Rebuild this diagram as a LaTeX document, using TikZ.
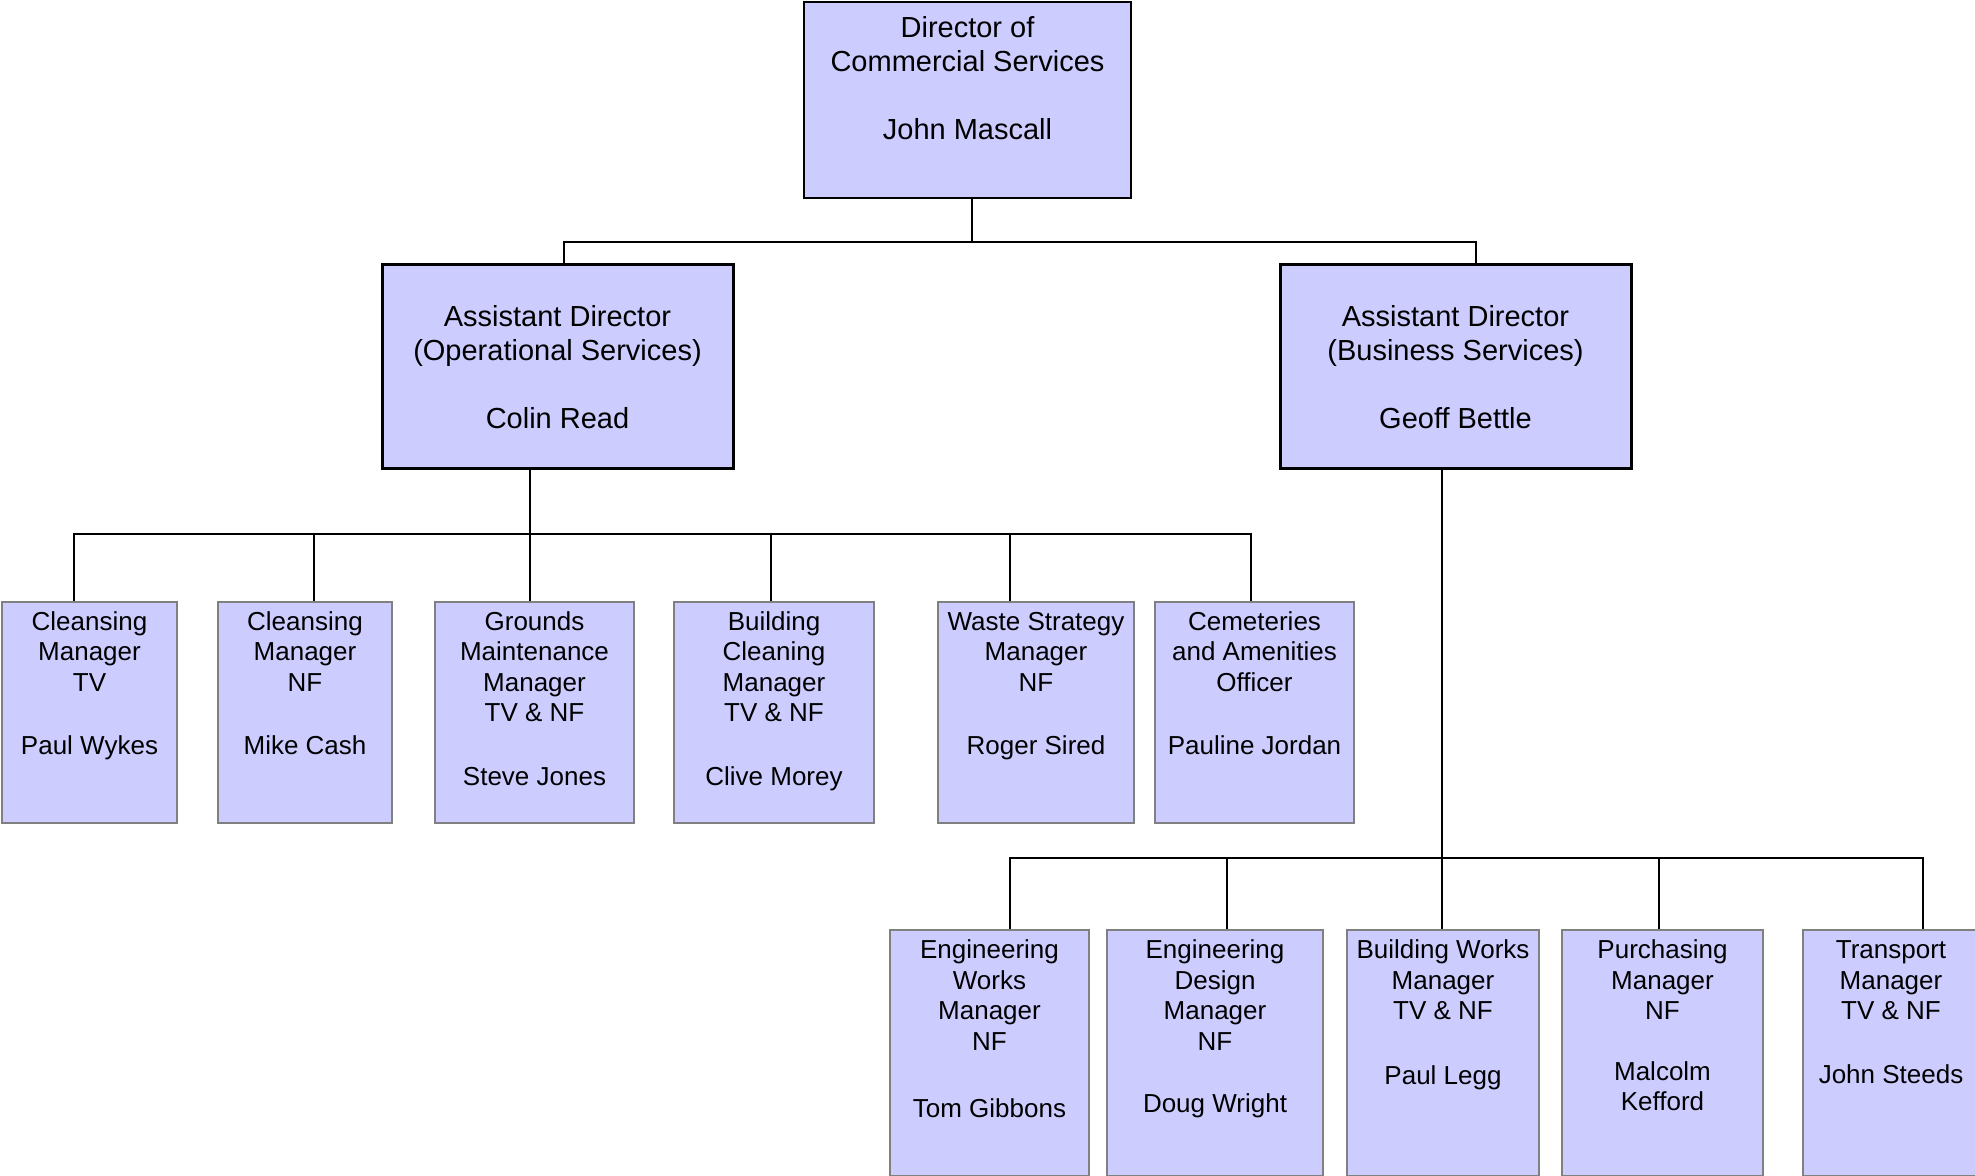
\documentclass[tikz,border=0pt]{standalone}
\usepackage{fontspec}
\setmainfont{Liberation Sans}
\definecolor{boxfill}{RGB}{204,204,255}
\definecolor{boxgray}{RGB}{128,128,128}
\begin{document}
\begin{tikzpicture}[x=1pt,y=-1pt,
  topbox/.style={draw=black, line width=2pt, fill=boxfill, inner sep=0pt},
  adbox/.style={draw=black, line width=3pt, fill=boxfill, inner sep=0pt},
  staffbox/.style={draw=boxgray, line width=1.6pt, fill=boxfill, inner sep=0pt},
  bigtxt/.style={anchor=north, align=center, inner sep=0pt, font=\fontsize{29}{34}\selectfont},
  smalltxt/.style={anchor=north, align=center, inner sep=0pt, font=\fontsize{26}{30.5}\selectfont},
  link/.style={draw=black, line width=1.6pt}
]
\useasboundingbox[fill=white] (0,0) rectangle (1975,1175);

% ---- boxes ----
\node[topbox, minimum width=327pt, minimum height=196pt] (dir) at (967.5,100) {};
\node[adbox, minimum width=351pt, minimum height=204pt] (adL) at (557.5,366) {};
\node[adbox, minimum width=351pt, minimum height=204pt] (adR) at (1455.5,366) {};

\node[staffbox, minimum width=175pt, minimum height=221pt] (ctv) at (89.5,712.5) {};
\node[staffbox, minimum width=174pt, minimum height=221pt] (cnf) at (305,712.5) {};
\node[staffbox, minimum width=199pt, minimum height=221pt] (gm)  at (534.5,712.5) {};
\node[staffbox, minimum width=200pt, minimum height=221pt] (bc)  at (774,712.5) {};
\node[staffbox, minimum width=196pt, minimum height=221pt] (ws)  at (1036,712.5) {};
\node[staffbox, minimum width=199pt, minimum height=221pt] (ce)  at (1254.5,712.5) {};

\node[staffbox, minimum width=199pt, minimum height=246pt] (ew) at (989.5,1053) {};
\node[staffbox, minimum width=216pt, minimum height=246pt] (ed) at (1215,1053) {};
\node[staffbox, minimum width=192pt, minimum height=246pt] (bw) at (1443,1053) {};
\node[staffbox, minimum width=201pt, minimum height=246pt] (pu) at (1662.5,1053) {};
\node[staffbox, minimum width=176pt, minimum height=246pt] (tr) at (1891,1053) {};

% ---- texts ----
\node[bigtxt] (dirt) at ([yshift=-12.6pt]dir.north) {\strut Director of\\Commercial Services\\[34pt]John Mascall};
\node[bigtxt] (adLt) at ([yshift=-39.6pt]adL.north) {\strut Assistant Director\\(Operational Services)\\[34pt]Colin Read};
\node[bigtxt] (adRt) at ([yshift=-39.6pt]adR.north) {\strut Assistant Director\\(Business Services)\\[34pt]Geoff Bettle};

\node[smalltxt] (ctvt) at ([yshift=-7.5pt]ctv.north) {\strut Cleansing\\Manager\\TV\\[33pt]Paul Wykes};
\node[smalltxt] (cnft) at ([yshift=-7.5pt]cnf.north) {\strut Cleansing\\Manager\\NF\\[33pt]Mike Cash};
\node[smalltxt] (gmt)  at ([yshift=-7.5pt]gm.north)  {\strut Grounds\\Maintenance\\Manager\\TV \& NF\\[33pt]Steve Jones};
\node[smalltxt] (bct)  at ([yshift=-7.5pt]bc.north)  {\strut Building\\Cleaning\\Manager\\TV \& NF\\[33pt]Clive Morey};
\node[smalltxt] (wst)  at ([yshift=-7.5pt]ws.north)  {\strut Waste Strategy\\Manager\\NF\\[33pt]Roger Sired};
\node[smalltxt] (cet)  at ([yshift=-7.5pt]ce.north)  {\strut Cemeteries\\and Amenities\\Officer\\[33pt]Pauline Jordan};

\node[smalltxt] (ewt) at ([yshift=-8pt]ew.north) {\strut Engineering\\Works\\Manager\\NF\\[37pt]Tom Gibbons};
\node[smalltxt] (edt) at ([yshift=-8pt]ed.north) {\strut Engineering\\Design\\Manager\\NF\\[32pt]Doug Wright};
\node[smalltxt] (bwt) at ([yshift=-8pt]bw.north) {\strut Building Works\\Manager\\TV \& NF\\[34pt]Paul Legg};
\node[smalltxt] (put) at ([yshift=-8pt]pu.north) {\strut Purchasing\\Manager\\NF\\[30pt]Malcolm\\Kefford};
\node[smalltxt] (trt) at ([yshift=-8pt]tr.north) {\strut Transport\\Manager\\TV \& NF\\[33pt]John Steeds};

% ---- bus coordinates ----
\coordinate (bus0) at (0,242);
\coordinate (bus1) at (0,534);
\coordinate (bus2) at (0,858);

% ---- connectors ----
\draw[link] ([xshift=4.5pt]dir.south) -- ([xshift=4.5pt]dir.south |- bus0);
\draw[link] ([xshift=6.5pt]adL.north) -- ([xshift=6.5pt]adL.north |- bus0)
  -- ([xshift=20.5pt]adR.north |- bus0) -- ([xshift=20.5pt]adR.north);

\draw[link] ([xshift=-27.5pt]adL.south) -- ([xshift=-27.5pt]adL.south |- bus1);
\draw[link] ([xshift=-15.5pt]ctv.north) -- ([xshift=-15.5pt]ctv.north |- bus1)
  -- ([xshift=-3.5pt]ce.north |- bus1) -- ([xshift=-3.5pt]ce.north);
\draw[link] ([xshift=9pt]cnf.north) -- ([xshift=9pt]cnf.north |- bus1);
\draw[link] ([xshift=-4.5pt]gm.north) -- ([xshift=-4.5pt]gm.north |- bus1);
\draw[link] ([xshift=-3pt]bc.north) -- ([xshift=-3pt]bc.north |- bus1);
\draw[link] ([xshift=-26pt]ws.north) -- ([xshift=-26pt]ws.north |- bus1);

\draw[link] ([xshift=-13.5pt]adR.south) -- ([xshift=-1pt]bw.north);
\draw[link] ([xshift=20.5pt]ew.north) -- ([xshift=20.5pt]ew.north |- bus2)
  -- ([xshift=32pt]tr.north |- bus2) -- ([xshift=32pt]tr.north);
\draw[link] ([xshift=12pt]ed.north) -- ([xshift=12pt]ed.north |- bus2);
\draw[link] ([xshift=-3.5pt]pu.north) -- ([xshift=-3.5pt]pu.north |- bus2);
\end{tikzpicture}
\end{document}
